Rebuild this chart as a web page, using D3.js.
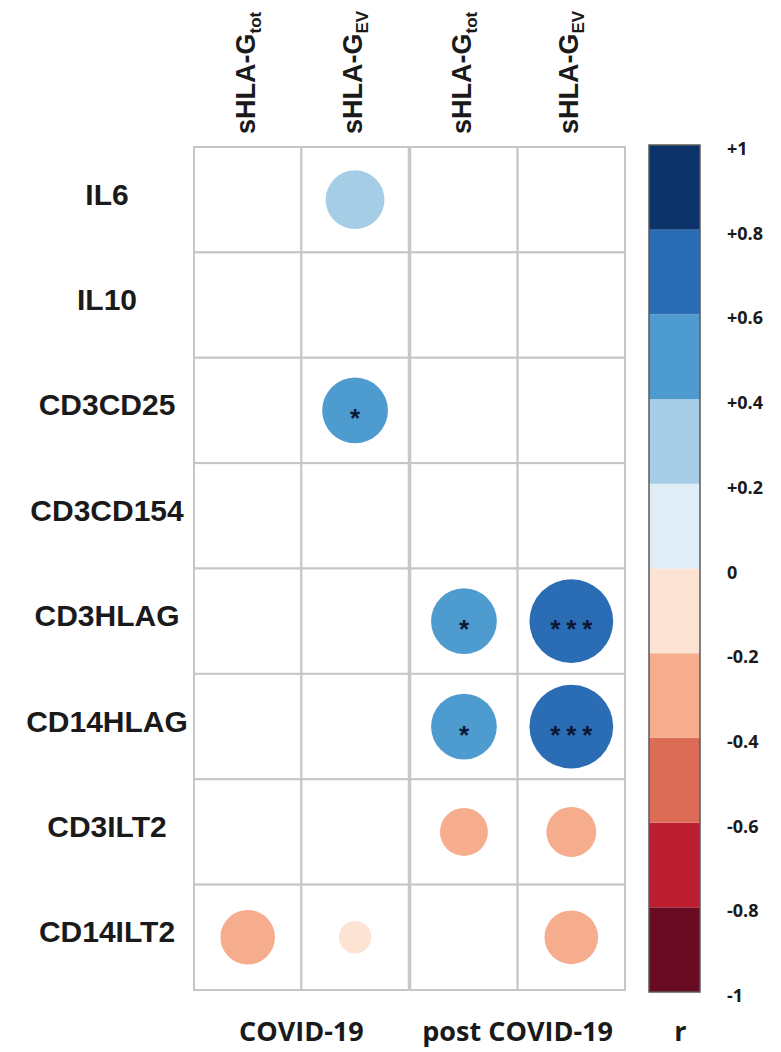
<!DOCTYPE html>
<html><head><meta charset="utf-8">
<script src="https://cdn.jsdelivr.net/npm/d3@7"></script>
<style>body{margin:0;background:#fff}</style></head>
<body><svg id="c" width="781" height="1052"></svg>
<script>
// ---- data ----
const rows = ["IL6","IL10","CD3CD25","CD3CD154","CD3HLAG","CD14HLAG","CD3ILT2","CD14ILT2"];
const groups = ["COVID-19","post COVID-19"];
const measures = ["tot","EV"];
// correlation r per row (null = blank cell)
const covidTot = [null, null, null, null, null, null, null, -0.31];
const covidEV  = [0.36, null, 0.45, null, null, null, null, -0.11];
const postTot  = [null, null, null, null, 0.45, 0.45, -0.24, null];
const postEV   = [null, null, null, null, 0.73, 0.73, -0.26, -0.30];
// significance marks
const covidTotSig = ["", "", "", "", "", "", "", ""];
const covidEVSig  = ["", "", "*", "", "", "", "", ""];
const postTotSig  = ["", "", "", "", "*", "*", "", ""];
const postEVSig   = ["", "", "", "", "***", "***", "", ""];
// legend
const legendTicks  = [1, 0.8, 0.6, 0.4, 0.2, 0, -0.2, -0.4, -0.6, -0.8, -1];
const legendLabels = ["+1","+0.8","+0.6","+0.4","+0.2","0","-0.2","-0.4","-0.6","-0.8","-1"];
const binColors = ["#690b22","#be1e31","#dc6c55","#f6ad8e","#fde3d4",
                   "#e0ecf6","#a6cde6","#4e9bcf","#2a6db5","#0b3369"]; // -1 .. +1

const series = [
  {group: groups[0], measure: measures[0], values: covidTot, sig: covidTotSig},
  {group: groups[0], measure: measures[1], values: covidEV,  sig: covidEVSig},
  {group: groups[1], measure: measures[0], values: postTot,  sig: postTotSig},
  {group: groups[1], measure: measures[1], values: postEV,   sig: postEVSig}
];
const cells = [];
series.forEach(s => rows.forEach((r, i) => cells.push({row: r, group: s.group, measure: s.measure, v: s.values[i], sig: s.sig[i]})));

// ---- layout ----
const svg = d3.select("#c");
const gx = d3.scaleBand().domain(groups).range([194, 625]).paddingInner(0.007);
const mx = d3.scaleBand().domain(measures).range([0, gx.bandwidth()]);
const y = d3.scaleBand().domain(rows).range([147, 990]);
const rScale = d3.scaleSqrt().domain([0, 1]).range([0, 49]);
const color = d3.scaleQuantize().domain([-1, 1]).range(binColors);
const cx = d => gx(d.group) + mx(d.measure) + mx.bandwidth() / 2;
const cy = d => y(d.row) + y.bandwidth() / 2;

// grid cells
svg.append("g").selectAll("rect").data(cells).join("rect")
  .attr("x", d => gx(d.group) + mx(d.measure))
  .attr("y", d => y(d.row))
  .attr("width", mx.bandwidth())
  .attr("height", y.bandwidth())
  .attr("fill", "#fff")
  .attr("stroke", "#c6c6c6")
  .attr("stroke-width", 2);

// circles
const sigCells = cells.filter(d => d.v !== null);
svg.append("g").selectAll("circle").data(sigCells).join("circle")
  .attr("cx", cx).attr("cy", cy)
  .attr("r", d => rScale(Math.abs(d.v)))
  .attr("fill", d => color(d.v));

// asterisks
const starSpacing = 6;
svg.append("g").selectAll("text").data(sigCells.filter(d => d.sig)).join("text")
  .attr("x", d => cx(d) + starSpacing / 2).attr("y", d => cy(d) + 17)
  .attr("text-anchor", "middle")
  .attr("font-family", "Liberation Sans, Arial, sans-serif")
  .attr("font-weight", "bold").attr("font-size", 26)
  .attr("letter-spacing", starSpacing)
  .attr("fill", "#0a1836")
  .text(d => d.sig);

// row labels
svg.append("g").selectAll("text").data(rows).join("text")
  .attr("x", 107)
  .attr("y", d => y(d) + y.bandwidth() / 2 + 5)
  .attr("text-anchor", "middle")
  .attr("font-family", "Liberation Sans, Arial, sans-serif")
  .attr("font-weight", "bold").attr("font-size", 30)
  .attr("fill", "#1a1a1a")
  .text(d => d);

// column headers (rotated)
const headers = [];
groups.forEach(g => measures.forEach(m => headers.push({group: g, measure: m})));
const hdr = svg.append("g").selectAll("text").data(headers).join("text")
  .attr("transform", d => `translate(${gx(d.group) + mx(d.measure) + mx.bandwidth() / 2 + 7},134) rotate(-90)`)
  .attr("font-family", "Liberation Sans, Arial, sans-serif")
  .attr("font-weight", "bold").attr("font-size", 27)
  .attr("fill", "#1a1a1a");
hdr.append("tspan").text("sHLA-G");
hdr.append("tspan").attr("font-size", 17).attr("dy", 6).text(d => d.measure);

// group labels
svg.append("g").selectAll("text").data(groups).join("text")
  .attr("x", d => gx(d) + gx.bandwidth() / 2)
  .attr("y", 1041)
  .attr("text-anchor", "middle")
  .attr("font-family", "Open Sans, sans-serif")
  .attr("font-weight", 700).attr("font-size", 27)
  .attr("fill", "#1a1a1a")
  .text(d => d);

// legend
const ly = d3.scaleLinear().domain([1, -1]).range([145, 992]);
const bins = d3.range(10).map(i => -1 + 0.2 * i);
const lg = svg.append("g");
lg.selectAll("rect").data(bins).join("rect")
  .attr("x", 649).attr("width", 51)
  .attr("y", d => ly(d + 0.2))
  .attr("height", d => ly(d) - ly(d + 0.2))
  .attr("fill", d => color(d + 0.1));
lg.append("rect").attr("x", 649).attr("width", 51)
  .attr("y", ly(1)).attr("height", ly(-1) - ly(1))
  .attr("fill", "none").attr("stroke", "#5a5a5a").attr("stroke-width", 1.5);
lg.selectAll("text.t").data(legendTicks).join("text").attr("class", "t")
  .attr("x", 727)
  .attr("y", d => ly(d) + 3)
  .attr("dominant-baseline", "central")
  .attr("font-family", "Open Sans, sans-serif")
  .attr("font-weight", 700).attr("font-size", 18)
  .attr("fill", "#1a1a1a")
  .text((d, i) => legendLabels[i]);
lg.append("text")
  .attr("x", 674.5 + 6).attr("y", 1041)
  .attr("text-anchor", "middle")
  .attr("font-family", "Open Sans, sans-serif")
  .attr("font-weight", 700).attr("font-size", 27)
  .attr("fill", "#1a1a1a")
  .text("r");
</script>
</body></html>
